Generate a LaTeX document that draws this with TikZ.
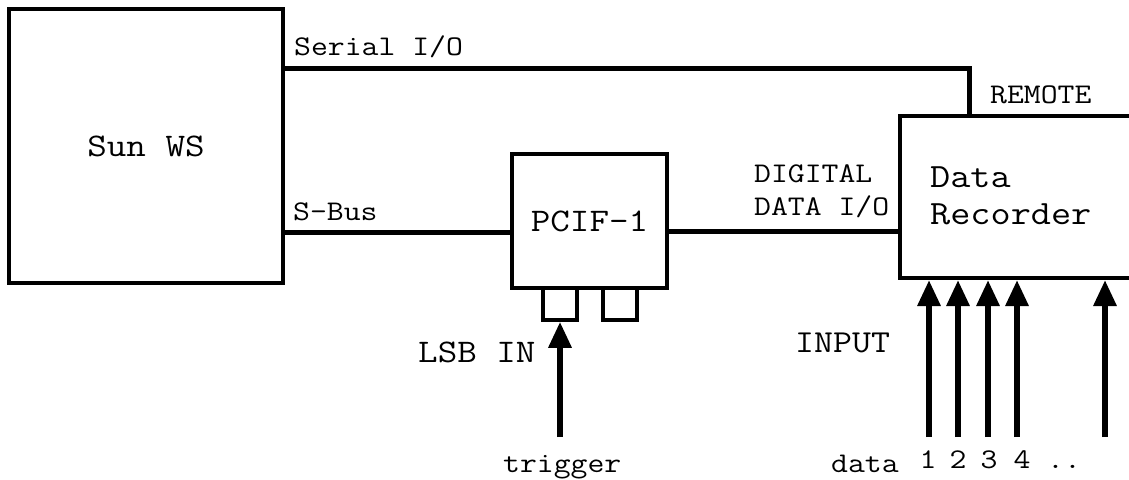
\documentclass[tikz,border=0pt]{standalone}
\usepackage{fontspec}
\setmonofont[FakeStretch=1.15]{Latin Modern Mono}
\usetikzlibrary{arrows.meta}
\tikzset{
  box/.style={draw, line width=4pt, inner sep=0pt, font=\ttfamily\fontsize{33}{38}\selectfont},
  port/.style={draw, line width=3.5pt, minimum width=34pt, minimum height=32pt, inner sep=0pt},
  wire/.style={line width=5pt},
  inarrow/.style={line width=6pt, -{Triangle[width=22pt,length=26pt]}},
  lbl/.style={anchor=base west, inner sep=0pt, font=\ttfamily\fontsize{28.5}{33}\selectfont},
  biglbl/.style={anchor=base west, inner sep=0pt, font=\ttfamily\fontsize{33}{38}\selectfont},
  numlbl/.style={anchor=base, inner sep=0pt, font=\ttfamily\fontsize{28.5}{33}\selectfont}
}
\begin{document}
\begin{tikzpicture}[x=1pt,y=-1pt]
\useasboundingbox (0,0) rectangle (1129,479);
\clip (0,0) rectangle (1129,479);
% boxes
\node[box, minimum width=274pt, minimum height=274pt] (sun) at (146,146) {Sun WS};
\node[box, minimum width=155pt, minimum height=134pt] (pcif) at (589.5,221) {PCIF-1};
\node[box, minimum width=250pt, minimum height=162pt] (dr) at (1025,197) {};
\node[biglbl, font=\ttfamily\fontsize{34}{37}\selectfont] (drtxt) at (930,187) {Data};
\node[biglbl, font=\ttfamily\fontsize{34}{37}\selectfont] (drtxt2) at (930,224) {Recorder};
% ports
\node[port] (p1) at (560,304) {};
\node[port] (p2) at (620,304) {};
% connectors
\coordinate (serturn) at (969,68);
\draw[wire] (sun.east |- serturn) -- (serturn) -- (serturn |- dr.north);
\coordinate (sbus) at (0,232);
\draw[wire] (sun.east |- sbus) -- (pcif.west |- sbus);
\coordinate (dio) at (0,231);
\draw[wire] (pcif.east |- dio) -- (dr.west |- dio);
% trigger arrow
\coordinate (trg) at (560,437);
\draw[inarrow] (trg) -- (p1.south);
% data arrows
\coordinate (in1) at (929,437);
\coordinate (in2) at (958,437);
\coordinate (in3) at (988,437);
\coordinate (in4) at (1017,437);
\coordinate (in5) at (1105,437);
\foreach \c in {in1,in2,in3,in4,in5}
  \draw[inarrow] (\c) -- (dr.south -| \c);
% labels
\node[lbl] (serlbl) at (294,55) {Serial I/O};
\node[lbl] (sbuslbl) at (293,220) {S-Bus};
\node[lbl] (remlbl) at (990,103) {REMOTE};
\node[lbl] (diglbl) at (754,182) {DIGITAL};
\node[lbl] (diglbl2) at (754,215) {DATA I/O};
\node[biglbl] (lsblbl) at (418,362) {LSB IN};
\node[lbl] (trglbl) at (503,472) {trigger};
\node[biglbl, font=\ttfamily\fontsize{32}{36}\selectfont] (inlbl) at (795,352) {INPUT};
\node[lbl] (datalbl) at (831,472) {data};
\node[numlbl] (n1) at (928,468) {1};
\node[numlbl] (n2) at (958,468) {2};
\node[numlbl] (n3) at (989,468) {3};
\node[numlbl] (n4) at (1022,468) {4};
\node[numlbl] (n5) at (1064,468) {..};
\end{tikzpicture}
\end{document}
